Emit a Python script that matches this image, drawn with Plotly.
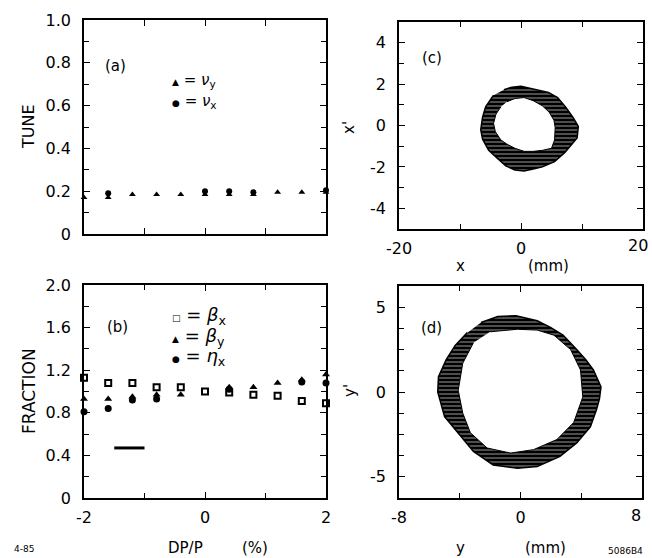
import plotly.graph_objects as go

# (a), (b): tune and lattice functions vs momentum deviation
dp = [-2.0, -1.6, -1.2, -0.8, -0.4, 0.0, 0.4, 0.8, 1.2, 1.6, 2.0]
nu_y = [0.17, 0.17, 0.185, 0.185, 0.185, 0.185, 0.185, 0.185, 0.195, 0.195, 0.195]
nu_x = [None, 0.19, None, None, None, 0.2, 0.2, 0.195, None, None, 0.205]
beta_x = [1.13, 1.08, 1.08, 1.04, 1.04, 1.0, 0.99, 0.97, 0.96, 0.91, 0.89]
beta_y = [0.93, 0.93, 0.95, 0.97, 0.97, None, 1.04, 1.04, 1.08, 1.11, 1.16]
eta_x = [0.81, 0.84, 0.92, 0.93, None, None, 1.02, None, None, 1.09, 1.08]
bar_x = [-1.5, -1.0]
bar_y = [0.47, 0.47]

# (c): horizontal phase space, x (mm) vs x' -- outer and inner edge of band
c_out_x = [-2.8, -1.5, 0.0, 1.5, 3.0, 4.5, 6.0, 7.3, 8.5, 9.4, 9.2, 7.2, 5.5, 3.5,
           2.0, 0.5, -1.0, -2.5, -3.8, -5.3, -6.3, -6.6, -6.3, -5.8, -4.5]
c_out_y = [1.73, 1.85, 1.9, 1.8, 1.7, 1.6, 1.35, 0.9, 0.4, -0.05, -0.6, -1.3, -1.75, -2.0,
           -2.1, -2.2, -2.15, -1.95, -1.6, -1.2, -0.66, -0.2, 0.4, 0.9, 1.46]
c_in_x = [-2.3, -1.0, 0.5, 2.0, 3.5, 4.6, 5.4, 5.6, 5.5, 5.0, 3.5, 2.0, 0.5, -1.0,
          -2.3, -3.3, -4.2, -4.5, -4.1, -3.3]
c_in_y = [1.15, 1.3, 1.35, 1.2, 0.95, 0.65, 0.25, -0.1, -0.7, -1.1, -1.2, -1.25, -1.25, -1.1,
          -0.9, -0.7, -0.3, 0.1, 0.55, 0.9]

# (d): vertical phase space, y (mm) vs y'
d_out_x = [-2.6, -1.5, -0.3, 1.1, 2.0, 2.8, 3.7, 4.3, 4.8, 5.3, 5.2, 5.0, 4.6, 3.7,
           2.6, 1.1, -0.2, -1.8, -3.1, -4.1, -5.0, -5.45, -5.4, -4.9, -4.3, -3.5]
d_out_y = [4.1, 4.45, 4.5, 4.2, 3.8, 3.35, 2.5, 1.9, 1.3, 0.3, -0.4, -1.05, -2.05, -3.0,
           -3.8, -4.4, -4.5, -4.3, -3.5, -2.4, -1.45, 0.0, 0.9, 1.9, 2.75, 3.5]
d_in_x = [-2.0, -0.2, 1.1, 2.2, 3.3, 3.95, 4.1, 3.5, 2.4, 0.85, -0.65, -2.2, -3.3,
          -3.8, -4.1, -3.8, -3.1]
d_in_y = [3.55, 3.7, 3.65, 3.35, 2.5, 1.3, -0.3, -1.8, -2.8, -3.4, -3.6, -3.3, -2.4,
          -1.25, 0.1, 1.7, 2.9]

FONT = "DejaVu Sans"
W, H = 652, 558


def px(x):
    return x / W


def py(y):
    return 1 - y / H


fig = go.Figure()

# panel (a)
fig.add_trace(go.Scatter(x=dp, y=nu_y, mode='markers', xaxis='x', yaxis='y', cliponaxis=False,
                         marker=dict(symbol='triangle-up', size=6, color='black')))
fig.add_trace(go.Scatter(x=dp, y=nu_x, mode='markers', xaxis='x', yaxis='y', cliponaxis=False,
                         marker=dict(symbol='circle', size=6, color='black')))

# panel (b)
fig.add_trace(go.Scatter(x=dp, y=beta_x, mode='markers', xaxis='x3', yaxis='y3', cliponaxis=False,
                         marker=dict(symbol='square-open', size=6, color='black', line=dict(width=2))))
fig.add_trace(go.Scatter(x=dp, y=beta_y, mode='markers', xaxis='x3', yaxis='y3', cliponaxis=False,
                         marker=dict(symbol='triangle-up', size=7, color='black')))
fig.add_trace(go.Scatter(x=dp, y=eta_x, mode='markers', xaxis='x3', yaxis='y3', cliponaxis=False,
                         marker=dict(symbol='circle', size=7, color='black')))
fig.add_trace(go.Scatter(x=bar_x, y=bar_y, mode='lines', xaxis='x3', yaxis='y3',
                         line=dict(color='black', width=3)))

# phase-space bands: streaky fill between outer and inner edge
streak = dict(shape='-', fgcolor='black', fgopacity=1, bgcolor='white', size=4, solidity=0.85)
for ox, oy, ix, iy, xa, ya in [(c_out_x, c_out_y, c_in_x, c_in_y, 'x2', 'y2'),
                               (d_out_x, d_out_y, d_in_x, d_in_y, 'x4', 'y4')]:
    fig.add_trace(go.Scatter(x=ox, y=oy, mode='lines', fill='toself', fillpattern=streak,
                             xaxis=xa, yaxis=ya, line=dict(color='black', width=1.5)))
    fig.add_trace(go.Scatter(x=ix, y=iy, mode='lines', fill='toself', fillcolor='white',
                             xaxis=xa, yaxis=ya, line=dict(color='black', width=1)))

common = dict(showline=True, linecolor='black', linewidth=1.5, mirror='allticks',
              ticks='inside', ticklen=6, tickwidth=1.3, tickcolor='black',
              showgrid=False, zeroline=False, automargin=False,
              tickfont=dict(family=FONT, size=16, color='black'))


def minor(d):
    return dict(ticks='inside', ticklen=5, tickwidth=1.3, tickcolor='black', dtick=d, showgrid=False)


fig.update_layout(
    width=W, height=H, margin=dict(l=0, r=0, t=0, b=0, autoexpand=False),
    paper_bgcolor='white', plot_bgcolor='white', showlegend=False,
    xaxis=dict(common, domain=[px(84), px(326)], anchor='y', range=[-2, 2],
               tickvals=[-2, -1, 0, 1, 2], showticklabels=False),
    yaxis=dict(common, domain=[py(234), py(20)], anchor='x', range=[0, 1], ticklabelstandoff=8,
               tickvals=[0, 0.2, 0.4, 0.6, 0.8, 1.0],
               ticktext=['0', '0.2', '0.4', '0.6', '0.8', '1.0'], minor=minor(0.1)),
    xaxis3=dict(common, domain=[px(84), px(326)], anchor='y3', range=[-2, 2], ticklabelstandoff=4,
                tickvals=[-2, 0, 2], ticktext=['-2', '0', '2'], minor=minor(1)),
    yaxis3=dict(common, domain=[py(498), py(285)], anchor='x3', range=[0, 2], ticklabelstandoff=8,
                tickvals=[0, 0.4, 0.8, 1.2, 1.6, 2.0],
                ticktext=['0', '0.4', '0.8', '1.2', '1.6', '2.0'], minor=minor(0.2)),
    xaxis2=dict(common, domain=[px(399), px(643)], anchor='y2', range=[-20, 20], ticklabelstandoff=4,
                tickvals=[-20, 0, 20], ticktext=['-20', '0', ''], minor=minor(10)),
    yaxis2=dict(common, domain=[py(229), py(22)], anchor='x2', range=[-5, 5], ticklabelstandoff=8,
                tickvals=[-4, -2, 0, 2, 4], ticktext=['-4', '-2', '0', '2', '4'], minor=minor(1)),
    xaxis4=dict(common, domain=[px(399), px(642)], anchor='y4', range=[-8, 8], ticklabelstandoff=4,
                tickvals=[-8, 0, 8], ticktext=['-8', '0', ''], minor=minor(4)),
    yaxis4=dict(common, domain=[py(498), py(286)], anchor='x4', range=[-6.25, 6.25], ticklabelstandoff=8,
                tickvals=[-5, 0, 5], ticktext=['-5', '0', '5'], minor=minor(1.25)),
)


def note(x, y, text, size=15, angle=0, xanchor='center'):
    fig.add_annotation(x=px(x), y=py(y), xref='paper', yref='paper', text=text, showarrow=False,
                       textangle=angle, xanchor=xanchor, yanchor='middle',
                       font=dict(family=FONT, size=size, color='black'))


# right-hand tick labels kept inside the page
note(638, 245, '20', 16)
note(636, 515, '8', 16)

# axis titles
note(29, 127, 'TUNE', 16, -90)
note(29, 391, 'FRACTION', 17, -90)
note(349, 128, "x'", 15, -90)
note(350, 391, "y'", 15, -90)
note(460, 266, 'x')
note(548, 266, '(mm)')
note(460, 548, 'y')
note(545, 548, '(mm)')
note(185, 548, 'DP/P')
note(255, 548, '(%)')
note(12, 549, '4-85', 9, xanchor='left')
note(606, 551, '5086B4', 9, xanchor='left')

# panel labels
note(115, 66, '(a)')
note(117, 327, '(b)')
note(432, 58, '(c)')
note(432, 328, '(d)')


# legends: small symbol, larger greek letter
def sym(s):
    return '<span style="font-size:9px">' + s + '</span>'


note(170, 80, sym('▲') + ' = <i>ν</i><sub>y</sub>', 15, xanchor='left')
note(170, 101, sym('●') + ' = <i>ν</i><sub>x</sub>', 15, xanchor='left')
note(170, 316, sym('□') + ' = <i>β</i><sub>x</sub>', 18, xanchor='left')
note(170, 337, sym('▲') + ' = <i>β</i><sub>y</sub>', 18, xanchor='left')
note(170, 357, sym('●') + ' = <i>η</i><sub>x</sub>', 18, xanchor='left')

# the page's default 8px body margin would push the 652x558 figure off the window
fig.write_html("out.html", config={'displayModeBar': False},
               post_script="document.body.style.margin='0';")
